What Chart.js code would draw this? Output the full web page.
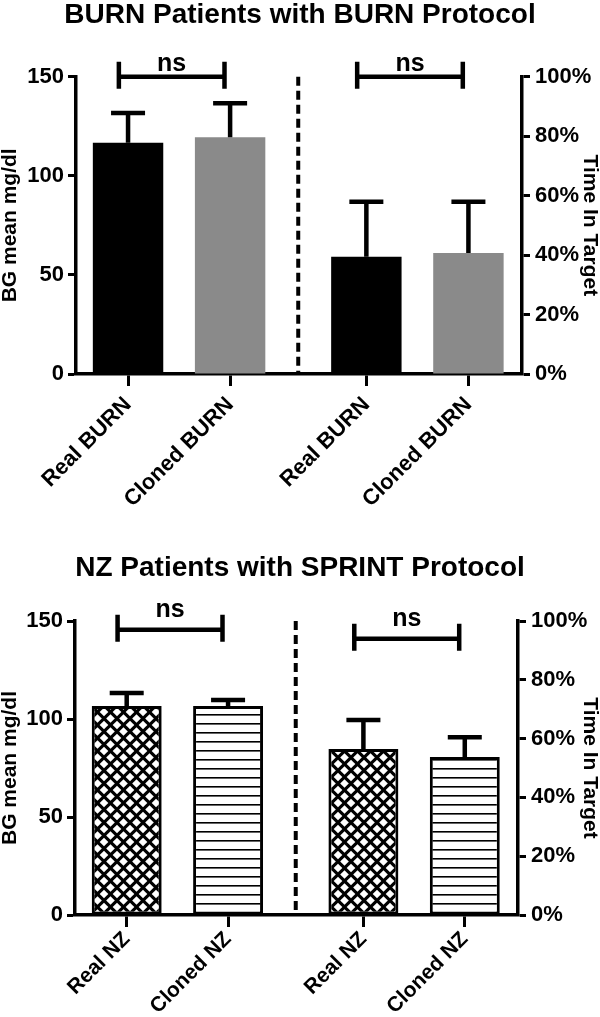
<!DOCTYPE html>
<html>
<head>
<meta charset="utf-8">
<script src="https://cdn.jsdelivr.net/npm/chart.js@4.4.0/dist/chart.umd.min.js"></script>
<style>
  html, body { margin: 0; padding: 0; background: #fff; }
  canvas { display: block; }
</style>
</head>
<body>
<canvas id="burnChart" width="600" height="530"></canvas>
<canvas id="nzChart" width="600" height="487"></canvas>
<script>
// values
const burnLabels = ['Real BURN', 'Cloned BURN', 'Real BURN', 'Cloned BURN'];
const burnBgMean = [116.7, 119.5];
const burnBgSd = [15.0, 17.1];
const burnTimeInTarget = [39.4, 40.7];
const burnTimeSd = [18.5, 17.2];
const burnBrackets = [150, 100]; // bracket level on left axis, right axis

const nzLabels = ['Real NZ', 'Cloned NZ', 'Real NZ', 'Cloned NZ'];
const nzBgMean = [106.6, 106.6];
const nzBgSd = [6.7, 3.1];
const nzTimeInTarget = [56.5, 53.7];
const nzTimeSd = [9.8, 6.8];
const nzBrackets = [145.5, 94];

const bgTicks = [0, 50, 100, 150];
const timeTicks = [0, 20, 40, 60, 80, 100];

const GROUP_GAP = 0.335;
const slot = i => i + (i >= 2 ? GROUP_GAP : 0);

Chart.defaults.font.family = '"Liberation Sans", Arial, sans-serif';
Chart.defaults.font.weight = 'bold';
Chart.defaults.color = '#000';

const extras = {
  id: 'extras',
  afterDatasetsDraw(chart, args, opts) {
    const ctx = chart.ctx;
    const x = chart.scales.x;
    const area = chart.chartArea;
    ctx.save();
    ctx.strokeStyle = '#000';
    ctx.fillStyle = '#000';

    // error bars (upper only)
    chart.data.datasets.forEach((ds, di) => {
      const meta = chart.getDatasetMeta(di);
      const ys = chart.scales[ds.yAxisID];
      meta.data.forEach((bar, i) => {
        const top = ys.getPixelForValue(ds.data[i].y + ds.errors[i]);
        ctx.lineWidth = 4.5;
        ctx.beginPath();
        ctx.moveTo(bar.x, bar.y);
        ctx.lineTo(bar.x, top);
        ctx.moveTo(bar.x - 17, top);
        ctx.lineTo(bar.x + 17, top);
        ctx.stroke();
      });
    });

    // dashed divider between the two groups
    const dx = x.getPixelForValue((slot(1) + slot(2)) / 2);
    ctx.lineWidth = 4;
    ctx.setLineDash([9, 5]);
    ctx.beginPath();
    ctx.moveTo(dx, area.top);
    ctx.lineTo(dx, area.bottom);
    ctx.stroke();
    ctx.setLineDash([]);

    // significance brackets
    const axes = ['y', 'y1'];
    opts.levels.forEach((lvl, k) => {
      const by = chart.scales[axes[k]].getPixelForValue(lvl);
      const x1 = x.getPixelForValue(slot(2 * k) - 0.09);
      const x2 = x.getPixelForValue(slot(2 * k + 1) - 0.055);
      ctx.lineWidth = 4.5;
      ctx.beginPath();
      ctx.moveTo(x1, by); ctx.lineTo(x2, by);
      ctx.moveTo(x1, by - 15); ctx.lineTo(x1, by + 12);
      ctx.moveTo(x2, by - 15); ctx.lineTo(x2, by + 12);
      ctx.stroke();
      ctx.font = 'bold 25px "Liberation Sans", Arial, sans-serif';
      ctx.textAlign = 'center';
      ctx.textBaseline = 'alphabetic';
      ctx.fillText('ns', (x1 + x2) / 2, by - opts.textGap);
    });
    ctx.restore();
  }
};

function crossHatch(ctx) {
  const s = 13;
  const c = document.createElement('canvas');
  c.width = s; c.height = s;
  const g = c.getContext('2d');
  g.fillStyle = '#000';
  g.fillRect(0, 0, s, s);
  g.fillStyle = '#fff';
  const r = 4.3;
  [[s / 2, s / 2], [0, 0], [s, 0], [0, s], [s, s]].forEach(([cx, cy]) => {
    g.beginPath();
    g.moveTo(cx, cy - r); g.lineTo(cx + r, cy); g.lineTo(cx, cy + r); g.lineTo(cx - r, cy);
    g.closePath();
    g.fill();
  });
  return ctx.createPattern(c, 'repeat');
}

function hLines(ctx) {
  const c = document.createElement('canvas');
  c.width = 9; c.height = 9;
  const g = c.getContext('2d');
  g.fillStyle = '#fff';
  g.fillRect(0, 0, 9, 9);
  g.fillStyle = '#000';
  g.fillRect(0, 4, 9, 1.6);
  return ctx.createPattern(c, 'repeat');
}

function makeChart(id, cfg) {
  const canvas = document.getElementById(id);
  const ctx = canvas.getContext('2d');
  const fills = cfg.patterned ? [crossHatch(ctx), hLines(ctx)] : ['#000', '#8a8a8a'];
  const barStyle = {
    backgroundColor: fills,
    borderColor: '#000',
    borderWidth: cfg.patterned ? 3 : 0,
    borderSkipped: false,
    grouped: false,
    barPercentage: 0.69,
    categoryPercentage: 1
  };
  const tickFont = { size: 22, weight: 'bold' };
  const titleFont = { size: 21, weight: 'bold', lineHeight: 1 };

  return new Chart(ctx, {
    type: 'bar',
    data: {
      datasets: [
        Object.assign({
          yAxisID: 'y',
          data: cfg.bg.map((v, i) => ({ x: slot(i), y: v })),
          errors: cfg.bgSd
        }, barStyle),
        Object.assign({
          yAxisID: 'y1',
          data: cfg.time.map((v, i) => ({ x: slot(i + 2), y: v })),
          errors: cfg.timeSd
        }, barStyle)
      ]
    },
    options: {
      responsive: false,
      animation: false,
      layout: { padding: 0 },
      plugins: {
        legend: { display: false },
        tooltip: { enabled: false },
        title: {
          display: true,
          text: cfg.title,
          color: '#000',
          font: { size: 28, weight: 'bold', lineHeight: 1 },
          padding: cfg.titlePad
        },
        extras: { levels: cfg.brackets, textGap: cfg.nsGap }
      },
      scales: {
        x: {
          type: 'linear',
          min: -0.51,
          max: 3.86,
          offset: false,
          afterBuildTicks: s => { s.ticks = cfg.labels.map((l, i) => ({ value: slot(i) })); },
          afterFit: s => { s.height = cfg.xHeight; },
          ticks: {
            callback: (v, i) => cfg.labels[i],
            minRotation: 45,
            maxRotation: 45,
            autoSkip: false,
            font: { size: cfg.xFont, weight: 'bold' },
            color: '#000',
            padding: cfg.xPad
          },
          grid: { offset: false, drawOnChartArea: false, tickLength: 12, tickWidth: 3, color: '#000' },
          border: { display: true, width: 3.5, color: '#000' }
        },
        y: {
          position: 'left',
          min: 0,
          max: 150,
          afterBuildTicks: s => { s.ticks = bgTicks.map(v => ({ value: v })); },
          afterFit: s => { s.width = cfg.leftW; },
          ticks: { font: tickFont, color: '#000', padding: 4 },
          grid: { drawOnChartArea: false, tickLength: 8, tickWidth: 3, color: '#000' },
          border: { display: true, width: 3.5, color: '#000' },
          title: { display: true, text: 'BG mean mg/dl', color: '#000', font: titleFont, padding: 0 }
        },
        y1: {
          position: 'right',
          min: 0,
          max: 100,
          afterBuildTicks: s => { s.ticks = timeTicks.map(v => ({ value: v })); },
          afterFit: s => { s.width = cfg.rightW; },
          ticks: { font: tickFont, color: '#000', padding: 5, callback: v => v + '%' },
          grid: { drawOnChartArea: false, tickLength: 8, tickWidth: 3, color: '#000' },
          border: { display: true, width: 3.5, color: '#000' },
          title: { display: true, text: 'Time In Target', color: '#000', font: titleFont, padding: 0 }
        }
      }
    },
    plugins: [extras]
  });
}

makeChart('burnChart', {
  title: 'BURN Patients with BURN Protocol',
  labels: burnLabels,
  bg: burnBgMean, bgSd: burnBgSd,
  time: burnTimeInTarget, timeSd: burnTimeSd,
  brackets: burnBrackets,
  nsGap: 6,
  patterned: false,
  titlePad: { top: 1, bottom: 47.7 },
  xHeight: 156,
  xFont: 22,
  xPad: 6,
  leftW: 76,
  rightW: 78
});

makeChart('nzChart', {
  title: 'NZ Patients with SPRINT Protocol',
  labels: nzLabels,
  bg: nzBgMean, bgSd: nzBgSd,
  time: nzTimeInTarget, timeSd: nzTimeSd,
  brackets: nzBrackets,
  nsGap: 13,
  patterned: true,
  titlePad: { top: 24, bottom: 39 },
  xHeight: 102,
  xFont: 21,
  xPad: 0,
  leftW: 75,
  rightW: 82
});
</script>
</body>
</html>
